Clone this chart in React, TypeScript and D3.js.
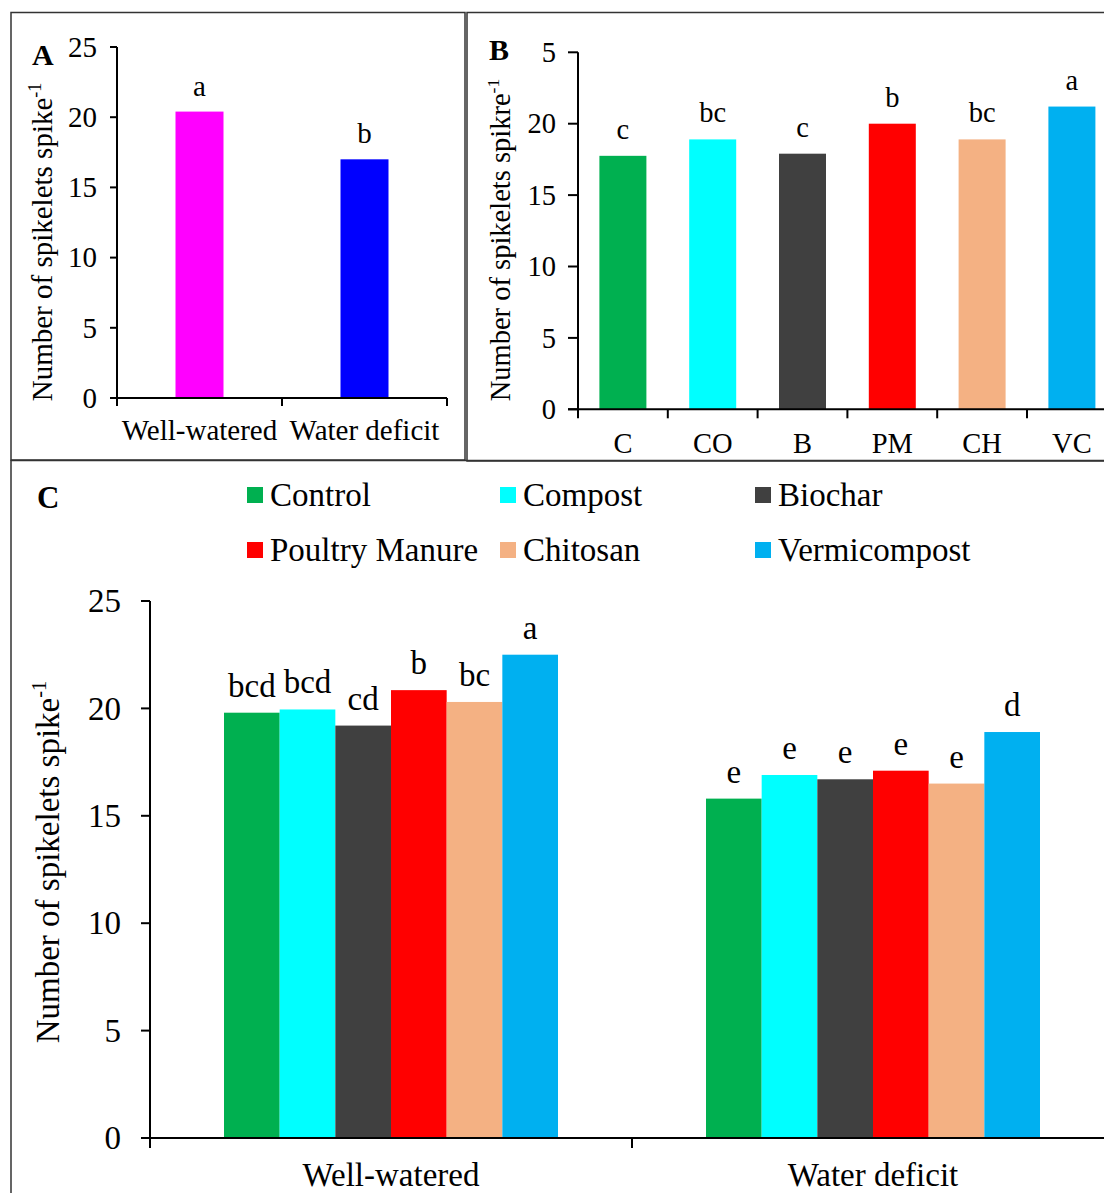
import React from "react";
import * as d3 from "d3";

const FONT = "'Liberation Serif', 'Times New Roman', serif";

const catsA = ["Well-watered", "Water deficit"];
const valsA = [20.4, 17.0];
const lettersA = ["a", "b"];
const colorsA = ["#FF00FF", "#0000FF"];

const catsB = ["C", "CO", "B", "PM", "CH", "VC"];
const valsB = [17.75, 18.9, 17.9, 20.0, 18.9, 21.2];
const lettersB = ["c", "bc", "c", "b", "bc", "a"];

const treatments = ["Control", "Compost", "Biochar", "Poultry Manure", "Chitosan", "Vermicompost"];
const treatColors = ["#00B050", "#00FFFF", "#404040", "#FF0000", "#F4B183", "#00B0F0"];
const groupsC = ["Well-watered", "Water deficit"];
const valsWW = [19.8, 19.95, 19.2, 20.85, 20.3, 22.5];
const valsWD = [15.8, 16.9, 16.7, 17.1, 16.5, 18.9];
const lettersWW = ["bcd", "bcd", "cd", "b", "bc", "a"];
const lettersWD = ["e", "e", "e", "e", "e", "d"];

const yTicks = [0, 5, 10, 15, 20, 25];
const yTickLabelsB = ["0", "5", "10", "15", "20", "5"];

function YLabel({ x, y, size, main }: { x: number; y: number; size: number; main: string }) {
  return (
    <text
      transform={`translate(${x},${y}) rotate(-90)`}
      textAnchor="middle"
      fontSize={size}
      fontFamily={FONT}
      fill="#000"
    >
      {main}
      <tspan fontSize={size * 0.62} dy={-size * 0.38}>-1</tspan>
    </text>
  );
}

export default function App() {
  // Panel A
  const pA = 1 - 48 / 165;
  const xA = d3.scaleBand<string>().domain(catsA).range([117, 447]).paddingInner(pA).paddingOuter(pA / 2);
  const yA = d3.scaleLinear().domain([0, 25]).range([398, 47]);
  const fsA = 29;

  // Panel B
  const stepB = 89.8;
  const pB = 1 - 47 / stepB;
  const xB = d3.scaleBand<string>().domain(catsB).range([578, 578 + 6 * stepB]).paddingInner(pB).paddingOuter(pB / 2);
  const yB = d3.scaleLinear().domain([0, 25]).range([409.3, 52.3]);
  const fsB = 28.5;

  // Panel C
  const xC = d3.scaleBand<string>().domain(groupsC).range([150, 150 + 2 * 482]);
  const groupW = 334;
  const xInner = d3.scaleBand<string>().domain(treatments).range([0, groupW]);
  const yC = d3.scaleLinear().domain([0, 25]).range([1138, 601]);
  const fsC = 33;
  const seriesC = [valsWW, valsWD];
  const lettersC = [lettersWW, lettersWD];

  const boundariesA = [0, 1, 2].map((i) => 117 + i * xA.step());
  const boundariesB = d3.range(7).map((i) => 578 + i * xB.step());
  const boundariesC = [0, 1, 2].map((i) => 150 + i * xC.step());

  return (
    <svg
      width={1104}
      height={1193}
      style={{ position: "absolute", left: 0, top: 0, background: "#fff" }}
      fontFamily={FONT}
    >
      <rect x={0} y={0} width={1104} height={1193} fill="#fff" />
      {/* panel borders */}
      <rect x={11} y={12.5} width={454} height={447.5} fill="none" stroke="#333" strokeWidth={1.5} />
      <rect x={467} y={12.5} width={700} height={448.5} fill="none" stroke="#333" strokeWidth={1.5} />
      <rect x={11} y={460.5} width={1200} height={800} fill="none" stroke="#333" strokeWidth={1.5} />

      {/* ===== Panel A ===== */}
      <text x={32} y={65} fontSize={30} fontWeight="bold" fontFamily={FONT}>A</text>
      {catsA.map((c, i) => (
        <g key={c}>
          <rect x={xA(c)!} y={yA(valsA[i])} width={xA.bandwidth()} height={yA(0) - yA(valsA[i])} fill={colorsA[i]} />
          <text x={xA(c)! + xA.bandwidth() / 2} y={yA(valsA[i]) - 16} textAnchor="middle" fontSize={fsA}>
            {lettersA[i]}
          </text>
          <text x={xA(c)! + xA.bandwidth() / 2} y={440} textAnchor="middle" fontSize={fsA}>
            {c}
          </text>
        </g>
      ))}
      <line x1={117} x2={117} y1={yA(25)} y2={yA(0)} stroke="#000" strokeWidth={2} />
      <line x1={117} x2={447} y1={yA(0)} y2={yA(0)} stroke="#000" strokeWidth={2} />
      {yTicks.map((t) => (
        <g key={t}>
          <line x1={110} x2={117} y1={yA(t)} y2={yA(t)} stroke="#000" strokeWidth={2} />
          <text x={97} y={yA(t)} dy="0.34em" textAnchor="end" fontSize={fsA}>{t}</text>
        </g>
      ))}
      {boundariesA.map((b, i) => (
        <line key={i} x1={b} x2={b} y1={yA(0)} y2={yA(0) + 8} stroke="#000" strokeWidth={2} />
      ))}
      <YLabel x={52} y={242} size={fsA} main="Number of spikelets spike" />

      {/* ===== Panel B ===== */}
      <text x={489} y={60} fontSize={30} fontWeight="bold" fontFamily={FONT}>B</text>
      {catsB.map((c, i) => (
        <g key={c}>
          <rect x={xB(c)!} y={yB(valsB[i])} width={xB.bandwidth()} height={yB(0) - yB(valsB[i])} fill={treatColors[i]} />
          <text x={xB(c)! + xB.bandwidth() / 2} y={yB(valsB[i]) - 17} textAnchor="middle" fontSize={fsB}>
            {lettersB[i]}
          </text>
          <text x={xB(c)! + xB.bandwidth() / 2} y={453} textAnchor="middle" fontSize={fsB}>
            {c}
          </text>
        </g>
      ))}
      <line x1={578} x2={578} y1={yB(25)} y2={yB(0)} stroke="#000" strokeWidth={2} />
      <line x1={568} x2={1104} y1={yB(0)} y2={yB(0)} stroke="#000" strokeWidth={2} />
      {yTicks.map((t, i) => (
        <g key={t}>
          <line x1={568} x2={578} y1={yB(t)} y2={yB(t)} stroke="#000" strokeWidth={2} />
          <text x={556} y={yB(t)} dy="0.34em" textAnchor="end" fontSize={fsB}>{yTickLabelsB[i]}</text>
        </g>
      ))}
      {boundariesB.map((b, i) => (
        <line key={i} x1={b} x2={b} y1={yB(0)} y2={yB(0) + 9} stroke="#000" strokeWidth={2} />
      ))}
      <YLabel x={510} y={240} size={fsB} main="Number of spikelets spikre" />

      {/* ===== Panel C ===== */}
      <text x={37} y={508} fontSize={31} fontWeight="bold" fontFamily={FONT}>C</text>
      {treatments.map((t, i) => {
        const col = i % 3;
        const row = Math.floor(i / 3);
        const lx = [247, 500, 755][col];
        const ly = [495, 550][row];
        return (
          <g key={t}>
            <rect x={lx} y={ly - 8} width={16} height={16} fill={treatColors[i]} />
            <text x={lx + 23} y={ly} dy="0.33em" fontSize={fsC}>{t}</text>
          </g>
        );
      })}
      {groupsC.map((g, gi) => {
        const gx = xC(g)! + (xC.bandwidth() - groupW) / 2;
        return (
          <g key={g}>
            {treatments.map((t, i) => {
              const v = seriesC[gi][i];
              const bx = gx + xInner(t)!;
              return (
                <g key={t}>
                  <rect x={bx} y={yC(v)} width={xInner.bandwidth()} height={yC(0) - yC(v)} fill={treatColors[i]} />
                  <text x={bx + xInner.bandwidth() / 2} y={yC(v) - 16} textAnchor="middle" fontSize={fsC}>
                    {lettersC[gi][i]}
                  </text>
                </g>
              );
            })}
            <text x={xC(g)! + xC.bandwidth() / 2} y={1186} textAnchor="middle" fontSize={fsC}>{g}</text>
          </g>
        );
      })}
      <line x1={150} x2={150} y1={yC(25)} y2={yC(0)} stroke="#000" strokeWidth={2} />
      <line x1={141} x2={1104} y1={yC(0)} y2={yC(0)} stroke="#000" strokeWidth={2} />
      {yTicks.map((t) => (
        <g key={t}>
          <line x1={141} x2={150} y1={yC(t)} y2={yC(t)} stroke="#000" strokeWidth={2} />
          <text x={121} y={yC(t)} dy="0.34em" textAnchor="end" fontSize={fsC}>{t}</text>
        </g>
      ))}
      {boundariesC.map((b, i) => (
        <line key={i} x1={b} x2={b} y1={yC(0)} y2={yC(0) + 10} stroke="#000" strokeWidth={2} />
      ))}
      <YLabel x={59} y={862} size={fsC} main="Number of spikelets spike" />
    </svg>
  );
}
